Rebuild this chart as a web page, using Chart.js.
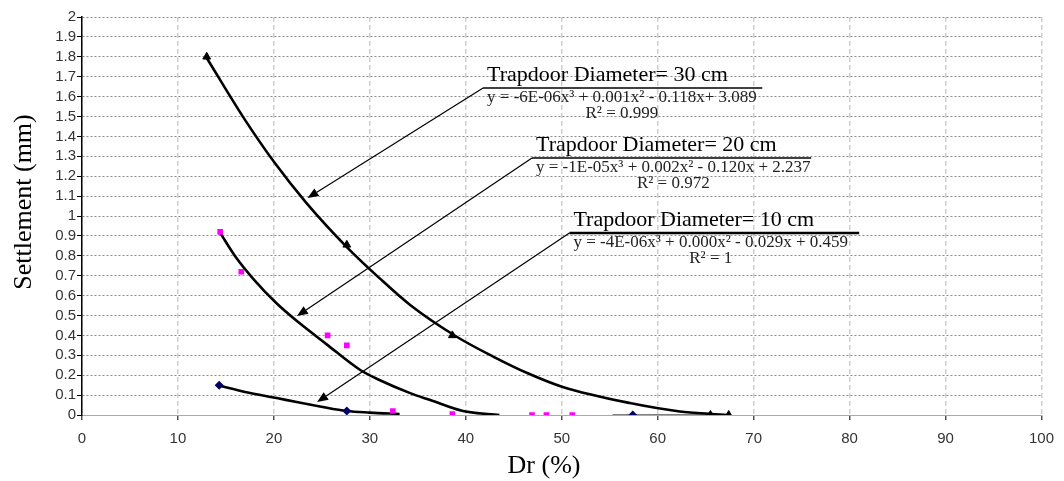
<!DOCTYPE html>
<html lang="en">
<head>
    <meta charset="UTF-8">
    <title>Settlement vs Dr</title>
    <script src="https://cdn.jsdelivr.net/npm/chart.js"></script>
    <style>
        body { margin: 0; background: #fff; }
        #wrap { width: 1064px; height: 481px; }
    </style>
</head>
<body>
<div id="wrap"><canvas id="chart" width="1064" height="481"></canvas></div>
<script>
    // measured points
    const dr30 = [13, 27.6, 38.6, 65.5, 67.4];
    const s30 = [1.8, 0.855, 0.40, 0, 0];
    const dr20 = [14.4, 16.6, 25.6, 27.6, 32.4, 38.6, 46.9, 48.4, 51.1];
    const s20 = [0.92, 0.72, 0.40, 0.35, 0.02, 0.005, 0, 0, 0];
    const dr10 = [14.3, 27.6, 57.4];
    const s10 = [0.15, 0.02, 0];

    // trend lines
    const fitX30 = [13, 16.8, 20.1, 23.4, 27.6, 31.0, 34.2, 39.1, 42.8, 46.4, 50.1, 57.1, 62.3, 65.7, 67.5];
    const fitY30 = [1.794, 1.497, 1.266, 1.065, 0.844, 0.688, 0.553, 0.392, 0.295, 0.211, 0.141, 0.06, 0.018, 0.005, 0];
    const fitX20 = [14.4, 16, 17.8, 20.3, 22.5, 25.5, 29.0, 31.0, 34.2, 36.3, 39.7, 43.5];
    const fitY20 = [0.915, 0.795, 0.687, 0.56, 0.468, 0.355, 0.226, 0.176, 0.11, 0.075, 0.02, 0];
    const fitX10 = [14.3, 17, 20.3, 22.5, 24.8, 27.6, 30, 33.1];
    const fitY10 = [0.148, 0.116, 0.085, 0.064, 0.043, 0.02, 0.012, 0.005];
    const tailX10 = [55.3, 67.5];
    const tailY10 = [0, 0];

    const xTicks = [0, 10, 20, 30, 40, 50, 60, 70, 80, 90, 100];
    const yTicks = [0, 0.1, 0.2, 0.3, 0.4, 0.5, 0.6, 0.7, 0.8, 0.9, 1, 1.1, 1.2, 1.3, 1.4, 1.5, 1.6, 1.7, 1.8, 1.9, 2];

    // callouts: start of underline, end of underline, arrow tip (data units)
    const notes = [
        { title: 'Trapdoor Diameter= 30 cm', eq: 'y = -6E-06x³ + 0.001x² - 0.118x+ 3.089', r2: 'R² = 0.999',
          start: [41.8, 1.643], end: [70.9, 1.643], tip: [23.5, 1.09], lw: 1.5 },
        { title: 'Trapdoor Diameter= 20 cm', eq: 'y = -1E-05x³ + 0.002x² - 0.120x + 2.237', r2: 'R² = 0.972',
          start: [46.9, 1.291], end: [76.0, 1.291], tip: [22.4, 0.497], lw: 1.5 },
        { title: 'Trapdoor Diameter= 10 cm', eq: 'y = -4E-06x³ + 0.000x² - 0.029x + 0.459', r2: 'R² = 1',
          start: [50.8, 0.915], end: [81.0, 0.915], tip: [24.5, 0.065], lw: 2.5 }
    ];

    const pts = (xs, ys) => xs.map((x, i) => ({ x: x, y: ys[i] }));

    const fitLine = (xs, ys, w) => ({
        type: 'line', data: pts(xs, ys), borderColor: '#000', borderWidth: w,
        pointRadius: 0, cubicInterpolationMode: 'monotone', fill: false, order: 2
    });

    const calloutPlugin = {
        id: 'callouts',
        afterDatasetsDraw(chart) {
            const ctx = chart.ctx;
            const xs = chart.scales.x, ys = chart.scales.y;
            ctx.save();
            notes.forEach(n => {
                const sx = xs.getPixelForValue(n.start[0]), sy = ys.getPixelForValue(n.start[1]);
                const ex = xs.getPixelForValue(n.end[0]);
                const tx = xs.getPixelForValue(n.tip[0]), ty = ys.getPixelForValue(n.tip[1]);
                ctx.strokeStyle = '#000';
                ctx.fillStyle = '#000';
                ctx.lineWidth = n.lw;
                ctx.beginPath();
                ctx.moveTo(ex, sy);
                ctx.lineTo(sx, sy);
                ctx.stroke();
                ctx.lineWidth = 1.2;
                const a = Math.atan2(ty - sy, tx - sx);
                const hl = 11, hw = 4.5;
                const bx = tx - hl * Math.cos(a), by = ty - hl * Math.sin(a);
                ctx.beginPath();
                ctx.moveTo(sx, sy);
                ctx.lineTo(bx, by);
                ctx.stroke();
                ctx.beginPath();
                ctx.moveTo(tx, ty);
                ctx.lineTo(bx + hw * Math.sin(a), by - hw * Math.cos(a));
                ctx.lineTo(bx - hw * Math.sin(a), by + hw * Math.cos(a));
                ctx.closePath();
                ctx.fill();

                ctx.textBaseline = 'alphabetic';
                ctx.textAlign = 'left';
                ctx.font = '22px "Liberation Serif", serif';
                ctx.fillText(n.title, sx + 4, sy - 7);
                ctx.font = '17px "Liberation Serif", serif';
                ctx.fillStyle = '#222';
                ctx.fillText(n.eq, sx + 4, sy + 14);
                const w = ctx.measureText(n.eq).width;
                ctx.textAlign = 'center';
                ctx.fillText(n.r2, sx + 4 + w / 2, sy + 30);
            });

            // axis titles
            ctx.fillStyle = '#000';
            ctx.textAlign = 'center';
            ctx.textBaseline = 'middle';
            ctx.font = '26px "Liberation Serif", serif';
            ctx.fillText('Dr (%)', 544, 466);
            ctx.translate(24, 202);
            ctx.rotate(-Math.PI / 2);
            ctx.fillText('Settlement (mm)', 0, 0);
            ctx.restore();
        }
    };

    new Chart(document.getElementById('chart'), {
        type: 'scatter',
        data: {
            datasets: [
                fitLine(fitX30, fitY30, 2.6),
                fitLine(fitX20, fitY20, 2.6),
                fitLine(fitX10, fitY10, 2.6),
                fitLine(tailX10, tailY10, 1),
                { data: pts(dr30, s30), pointStyle: 'triangle', pointRadius: 4.5,
                  backgroundColor: '#000', borderColor: '#000', order: 1 },
                { data: pts(dr20, s20), pointStyle: 'rect', pointRadius: 4,
                  backgroundColor: '#ff00ff', borderColor: '#ff00ff', borderWidth: 0, order: 1 },
                { data: pts(dr10, s10), pointStyle: 'rectRot', pointRadius: 4.5,
                  backgroundColor: '#000066', borderColor: '#000066', borderWidth: 0, order: 1 }
            ]
        },
        options: {
            responsive: false,
            animation: false,
            layout: { padding: { left: 0, right: 22, top: 17, bottom: 0 } },
            plugins: { legend: { display: false }, tooltip: { enabled: false } },
            scales: {
                x: {
                    type: 'linear', min: 0, max: 100,
                    afterBuildTicks: s => { s.ticks = xTicks.map(v => ({ value: v })); },
                    afterFit: s => { s.height = 66; },
                    grid: { color: '#cfcfcf', lineWidth: 1.5, tickColor: '#555', tickLength: 5, drawTicks: true },
                    border: { color: '#aaa', width: 1, dash: [5, 3] },
                    ticks: { color: '#333', font: { family: '"Liberation Sans", Arial', size: 15 }, padding: 10,
                             maxRotation: 0, autoSkip: false }
                },
                y: {
                    type: 'linear', min: 0, max: 2,
                    afterBuildTicks: s => { s.ticks = yTicks.map(v => ({ value: v })); },
                    afterFit: s => { s.width = 82; },
                    grid: { color: '#8a8a8a', lineWidth: 1, tickColor: '#000', tickLength: 5 },
                    border: { color: '#000', width: 1.5, dash: [2, 2] },
                    ticks: { color: '#333', font: { family: '"Liberation Sans", Arial', size: 15 }, padding: 1,
                             autoSkip: false, callback: v => String(Math.round(v * 10) / 10) }
                }
            }
        },
        plugins: [calloutPlugin]
    });
</script>
</body>
</html>
